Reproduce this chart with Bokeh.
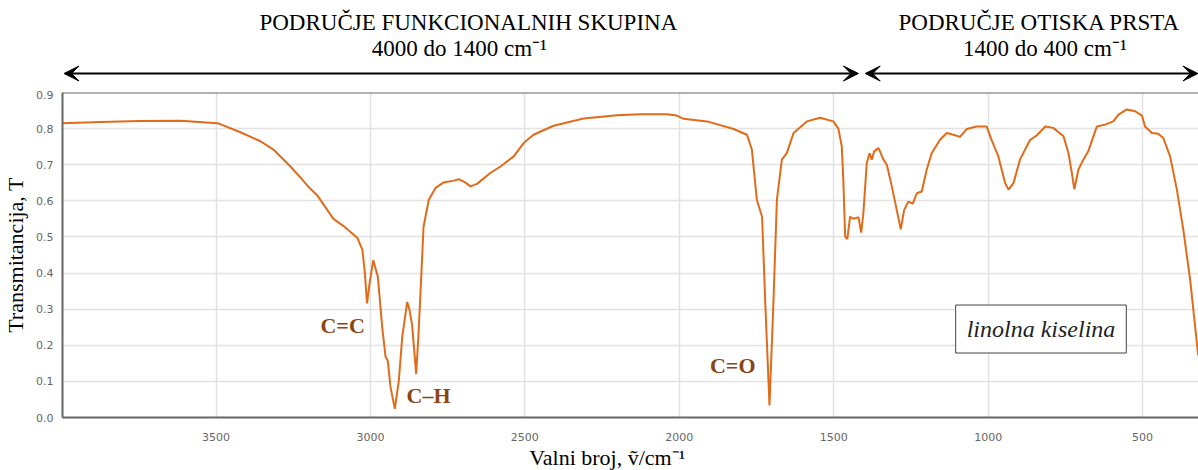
from bokeh.plotting import figure
from bokeh.layouts import column
from bokeh.models import Label, Arrow, VeeHead, Span, Range1d, FixedTicker, PrintfTickFormatter
from bokeh.embed import file_html
from bokeh.resources import INLINE

# IR spectrum of linoleic acid
wavenumber = [4000, 3874, 3744, 3615, 3495, 3421, 3356, 3314, 3259, 3227, 3204, 3172,
              3120, 3087, 3042, 3026, 3018, 3011, 3003, 2991, 2976, 2962, 2951, 2944,
              2935, 2921, 2908, 2897, 2881, 2874, 2865, 2852, 2845, 2838, 2828, 2811,
              2790, 2763, 2730, 2714, 2693, 2676, 2655, 2612, 2579, 2536, 2504, 2472,
              2407, 2310, 2202, 2126, 2040, 2008, 1986, 1910, 1824, 1781, 1765, 1749,
              1732, 1722, 1708, 1695, 1684, 1668, 1652, 1630, 1587, 1544, 1501, 1485,
              1474, 1469, 1463, 1456, 1447, 1436, 1420, 1411, 1404, 1393, 1384, 1377,
              1369, 1355, 1339, 1328, 1312, 1296, 1283, 1272, 1258, 1244, 1231, 1215,
              1199, 1183, 1156, 1134, 1113, 1091, 1069, 1037, 1005, 989, 967, 945,
              934, 918, 897, 864, 843, 815, 789, 756, 740, 729, 721, 708, 692, 676,
              648, 621, 595, 578, 551, 524, 502, 492, 470, 449, 433, 411, 389, 368,
              346, 320]
transmittance = [0.815, 0.818, 0.821, 0.822, 0.815, 0.790, 0.765, 0.742, 0.695, 0.665, 0.642, 0.615,
                 0.550, 0.530, 0.497, 0.464, 0.400, 0.316, 0.370, 0.436, 0.390, 0.251, 0.168, 0.158,
                 0.084, 0.024, 0.103, 0.223, 0.320, 0.300, 0.256, 0.121, 0.220, 0.344, 0.529, 0.603,
                 0.635, 0.651, 0.656, 0.660, 0.651, 0.640, 0.647, 0.677, 0.695, 0.723, 0.760, 0.783,
                 0.808, 0.828, 0.837, 0.840, 0.840, 0.836, 0.827, 0.820, 0.799, 0.783, 0.742, 0.603,
                 0.556, 0.325, 0.033, 0.325, 0.603, 0.714, 0.732, 0.788, 0.820, 0.830, 0.820, 0.800,
                 0.751, 0.658, 0.501, 0.494, 0.556, 0.550, 0.555, 0.512, 0.566, 0.705, 0.732, 0.714,
                 0.737, 0.746, 0.714, 0.700, 0.640, 0.575, 0.521, 0.575, 0.598, 0.592, 0.621, 0.626,
                 0.686, 0.732, 0.769, 0.788, 0.783, 0.777, 0.799, 0.806, 0.806, 0.769, 0.723, 0.649,
                 0.631, 0.649, 0.714, 0.769, 0.781, 0.806, 0.802, 0.779, 0.732, 0.677, 0.632, 0.686,
                 0.714, 0.737, 0.806, 0.811, 0.820, 0.839, 0.853, 0.848, 0.836, 0.806, 0.788, 0.786,
                 0.774, 0.723, 0.631, 0.519, 0.381, 0.172]

x_ticks = [3500, 3000, 2500, 2000, 1500, 1000, 500]
y_ticks = [0.0, 0.1, 0.2, 0.3, 0.4, 0.5, 0.6, 0.7, 0.8, 0.9]

headers = ["PODRUČJE FUNKCIONALNIH SKUPINA", "4000 do 1400 cm⁻¹",
           "PODRUČJE OTISKA PRSTA", "1400 do 400 cm⁻¹"]
region_bounds = [(3992, 1420), (1398, 321)]
peak_labels = ["C=C", "C–H", "C=O"]
peak_label_x = [3090, 2812, 1827]
peak_label_y = [0.255, 0.061, 0.143]

LINE = "#e06b1a"
BROWN = "#8B4513"
SERIF = "Liberation Serif"
W = 1198
LEFT = 62

xr = Range1d(3997, 319)


def blank(height, ymax):
    f = figure(width=W, height=height, output_backend="svg", toolbar_location=None,
               x_range=xr, y_range=Range1d(0, ymax), x_axis_type=None, y_axis_type=None,
               min_border_left=LEFT, min_border_right=0, min_border_top=0, min_border_bottom=0,
               background_fill_color="white", border_fill_color="white")
    f.outline_line_color = None
    f.grid.visible = False
    return f


# ---- header strip (y in pixels from its bottom) ----
top = blank(90, 90)
hdr_pos = [(2683, 68), (2712, 42), (834, 68), (816, 42)]
for t, (hx, hy) in zip(headers, hdr_pos):
    top.add_layout(Label(x=hx, y=hy, text=t, text_align="center", text_baseline="middle",
                         text_font=SERIF, text_font_size="23px", text_color="black"))
for xs, xe in region_bounds:
    top.add_layout(Arrow(x_start=xs, y_start=17, x_end=xe, y_end=17,
                         line_color="black", line_width=2,
                         start=VeeHead(size=15, fill_color="black", line_color="black"),
                         end=VeeHead(size=15, fill_color="black", line_color="black")))

# ---- main spectrum ----
p = figure(width=W, height=355, output_backend="svg", toolbar_location=None,
           x_range=xr, y_range=Range1d(0, 0.9),
           min_border_left=LEFT, min_border_right=0, min_border_top=2, min_border_bottom=28,
           background_fill_color="white", border_fill_color="white")
p.outline_line_color = None

p.line(wavenumber, transmittance, line_color=LINE, line_width=2)

p.xaxis.ticker = FixedTicker(ticks=x_ticks)
p.yaxis.ticker = FixedTicker(ticks=y_ticks)
p.xgrid.ticker = FixedTicker(ticks=x_ticks)
p.ygrid.ticker = FixedTicker(ticks=y_ticks)
p.yaxis.formatter = PrintfTickFormatter(format="%.1f")
for ax in (p.xaxis, p.yaxis):
    ax.axis_line_color = "#666666"
    ax.axis_line_width = 2
    ax.major_tick_line_color = None
    ax.minor_tick_line_color = None
    ax.major_label_text_font = "DejaVu Sans"
    ax.major_label_text_font_size = "11px"
    ax.major_label_text_color = "#666666"
p.xaxis.major_label_standoff = 9
p.yaxis.major_label_standoff = 3
p.yaxis.axis_label = "Transmitancija, T"
p.yaxis.axis_label_text_font = SERIF
p.yaxis.axis_label_text_font_size = "22px"
p.yaxis.axis_label_text_font_style = "normal"
p.yaxis.axis_label_text_color = "black"
p.yaxis.axis_label_standoff = 5

p.grid.grid_line_color = "#e2e2e2"
p.grid.grid_line_width = 1.5

p.add_layout(Span(location=0.9, dimension="width", line_color="#666666", line_width=2))

for t, lx, ly in zip(peak_labels, peak_label_x, peak_label_y):
    p.add_layout(Label(x=lx, y=ly, text=t, text_align="center", text_baseline="middle",
                       text_font=SERIF, text_font_size="22px", text_font_style="bold",
                       text_color=BROWN))

p.add_layout(Label(x=829, y=0.245, text="linolna kiselina", text_align="center",
                   text_baseline="middle", text_font=SERIF, text_font_size="24px",
                   text_font_style="italic", text_color="#222222",
                   background_fill_color="white", border_line_color="#444444",
                   border_line_width=1, padding=11))

# ---- x-axis title strip ----
bot = blank(25, 25)
bot.add_layout(Label(x=2233, y=13, text="Valni broj, ṽ/cm⁻¹", text_align="center",
                     text_baseline="middle", text_font=SERIF, text_font_size="22px",
                     text_color="black"))

layout = column(top, p, bot, spacing=0)
open("out.html", "w").write(file_html(layout, INLINE))
